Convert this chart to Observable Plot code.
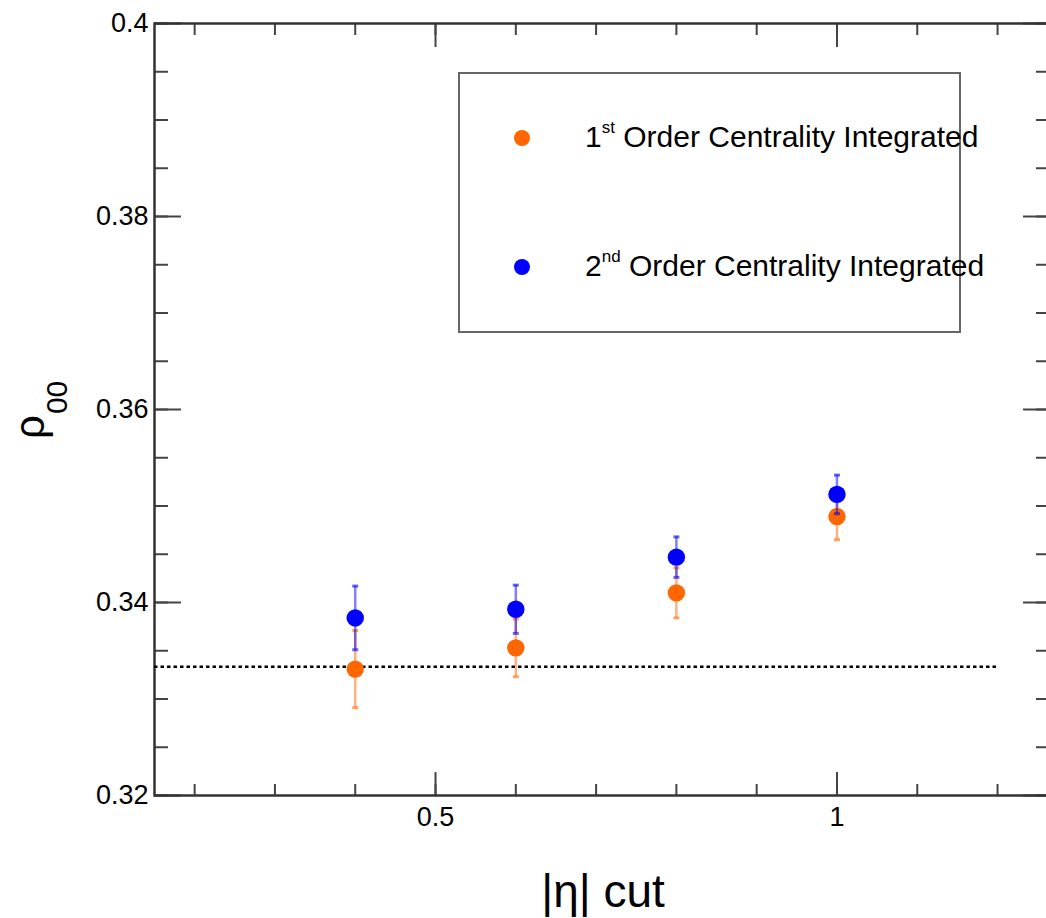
<!DOCTYPE html>
<html>
<head>
<meta charset="utf-8">
<script src="https://cdn.jsdelivr.net/npm/d3@7"></script>
<script src="https://cdn.jsdelivr.net/npm/@observablehq/plot@0.6"></script>
<style>
  html, body { margin: 0; padding: 0; background: #fff; overflow: hidden; }
  #chart svg { display: block; }
</style>
</head>
<body>
<div id="chart"></div>
<script>
// |eta| cut values
const etaCuts = [0.4, 0.6, 0.8, 1.0];

// rho_00, 1st order event plane, centrality integrated
const rhoFirst = [0.3331, 0.3353, 0.3410, 0.3489];
const rhoFirstErr = [0.0040, 0.0030, 0.0026, 0.0024];

// rho_00, 2nd order event plane, centrality integrated
const rhoSecond = [0.3384, 0.3393, 0.3447, 0.3512];
const rhoSecondErr = [0.0033, 0.0025, 0.0021, 0.0020];

// no-alignment reference level 1/3 and its extent in |eta|
const refLevel = 1 / 3;
const refFrom = 0.15;
const refTo = 1.2;

// axis ranges and ticks
const xDomain = [0.15, 1.2647];
const yDomain = [0.32, 0.4];
const xMajorTicks = [0.5, 1];
const xMinorTicks = [0.2, 0.3, 0.4, 0.5, 0.6, 0.7, 0.8, 0.9, 1.0, 1.1, 1.2];
const yMajorTicks = [0.32, 0.34, 0.36, 0.38, 0.4];
const yMinorTicks = [0.32, 0.325, 0.33, 0.335, 0.34, 0.345, 0.35, 0.355, 0.36,
                     0.365, 0.37, 0.375, 0.38, 0.385, 0.39, 0.395, 0.4];

const seriesNames = ["1st Order Centrality Integrated", "2nd Order Centrality Integrated"];
const seriesColors = ["#ff6600", "#0000ff"];

const rows = (vals, errs) => etaCuts.map((x, i) => ({x, y: vals[i], lo: vals[i] - errs[i], hi: vals[i] + errs[i]}));
const first = rows(rhoFirst, rhoFirstErr);
const second = rows(rhoSecond, rhoSecondErr);

// horizontal bar used as error-bar cap
const capSymbol = {
  draw(context, size) {
    const r = Math.sqrt(size / Math.PI);
    context.moveTo(-r, 0);
    context.lineTo(r, 0);
  }
};

const font = "'Liberation Sans', Arial, Helvetica, sans-serif";
const axisStroke = "#444";

function seriesMarks(data, color) {
  return [
    Plot.ruleX(data, {x: "x", y1: "lo", y2: "hi", stroke: color, strokeOpacity: 0.5, strokeWidth: 2.5}),
    Plot.dot(data, {x: "x", y: "lo", symbol: capSymbol, r: 3, stroke: color, strokeOpacity: 0.6, strokeWidth: 3, fill: "none"}),
    Plot.dot(data, {x: "x", y: "hi", symbol: capSymbol, r: 3, stroke: color, strokeOpacity: 0.6, strokeWidth: 3, fill: "none"}),
    Plot.dot(data, {x: "x", y: "y", r: 8.7, fill: color, stroke: null})
  ];
}

const plot = Plot.plot({
  width: 1046,
  height: 918,
  marginLeft: 154,
  marginRight: -3,
  marginTop: 23,
  marginBottom: 123,
  style: {fontFamily: font, background: "#fff", color: "black"},
  x: {domain: xDomain},
  y: {domain: yDomain},
  marks: [
    // y tick labels and inward ticks on both sides
    Plot.axisY({ticks: yMajorTicks, tickSize: 0, tickPadding: 6, fontSize: 27, label: null,
                tickFormat: d => String(d), fill: "black"}),
    Plot.axisY({ticks: yMajorTicks, tickSize: 27, dx: 27, fill: "none", label: null, stroke: axisStroke, strokeWidth: 2}),
    Plot.axisY({ticks: yMinorTicks, tickSize: 14, dx: 14, fill: "none", label: null, stroke: axisStroke, strokeWidth: 2}),
    Plot.axisY({anchor: "right", ticks: yMajorTicks, tickSize: 27, dx: -27, fill: "none", label: null, stroke: axisStroke, strokeWidth: 2}),
    Plot.axisY({anchor: "right", ticks: yMinorTicks, tickSize: 14, dx: -14, fill: "none", label: null, stroke: axisStroke, strokeWidth: 2}),
    // x tick labels and inward ticks on bottom and top
    Plot.axisX({ticks: xMajorTicks, tickSize: 0, tickPadding: 11, fontSize: 27, label: null,
                tickFormat: d => String(d), fill: "black"}),
    Plot.axisX({ticks: xMajorTicks, tickSize: 23, dy: -23, fill: "none", label: null, stroke: axisStroke, strokeWidth: 2}),
    Plot.axisX({ticks: xMinorTicks, tickSize: 11, dy: -11, fill: "none", label: null, stroke: axisStroke, strokeWidth: 2}),
    Plot.axisX({anchor: "top", ticks: xMajorTicks, tickSize: 23, dy: 23, fill: "none", label: null, stroke: axisStroke, strokeWidth: 2}),
    Plot.axisX({anchor: "top", ticks: xMinorTicks, tickSize: 11, dy: 11, fill: "none", label: null, stroke: axisStroke, strokeWidth: 2}),
    Plot.frame({stroke: "#333", strokeWidth: 2.5}),
    // rho_00 = 1/3 reference
    Plot.ruleY([refLevel], {x1: refFrom, x2: refTo, stroke: "black", strokeWidth: 2.5, strokeDasharray: "3.5,3"}),
    ...seriesMarks(first, seriesColors[0]),
    ...seriesMarks(second, seriesColors[1])
  ]
});

document.getElementById("chart").appendChild(plot);

const svg = d3.select(plot);

// axis titles
svg.append("text")
  .attr("x", 603).attr("y", 907)
  .attr("text-anchor", "middle")
  .attr("font-family", font).attr("font-size", 46).attr("fill", "black")
  .text("|η| cut");

const yTitle = svg.append("text")
  .attr("transform", "translate(44,439) rotate(-90)")
  .attr("text-anchor", "start")
  .attr("font-family", font).attr("font-size", 42).attr("fill", "black");
yTitle.append("tspan").text("ρ");
yTitle.append("tspan").attr("font-size", 30).attr("dy", 23).attr("dx", 1).text("00");

// legend box
const legend = svg.append("g").attr("text-anchor", "start");
legend.append("rect")
  .attr("x", 459).attr("y", 73).attr("width", 501).attr("height", 259)
  .attr("fill", "white").attr("stroke", "#666").attr("stroke-width", 2);

const legendRows = [
  {y: 138, base: 147, num: "1", sup: "st", rest: " Order Centrality Integrated"},
  {y: 267, base: 276, num: "2", sup: "nd", rest: " Order Centrality Integrated"}
];
legendRows.forEach((r, i) => {
  legend.append("circle").attr("cx", 522).attr("cy", r.y).attr("r", 8).attr("fill", seriesColors[i]);
  const t = legend.append("text")
    .attr("x", 585).attr("y", r.base)
    .attr("text-anchor", "start")
    .attr("font-family", font).attr("font-size", 30).attr("fill", "black");
  t.append("tspan").text(r.num);
  t.append("tspan").attr("font-size", 17).attr("dy", -14).text(r.sup);
  t.append("tspan").attr("dy", 14).text(r.rest);
});
</script>
</body>
</html>
